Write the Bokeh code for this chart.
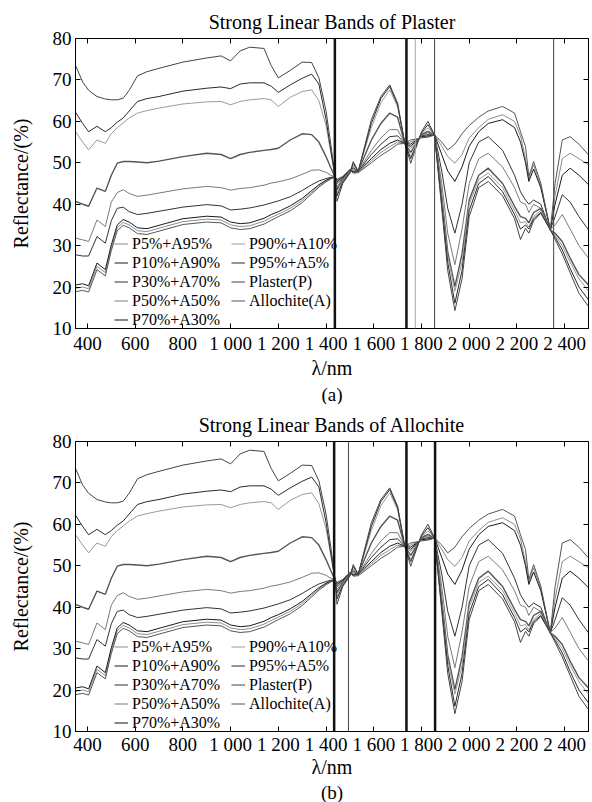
from bokeh.plotting import figure
from bokeh.models import (Range1d, FixedTicker, LinearAxis, Legend, LegendItem,
                          Span, Title, CustomLabelingPolicy)
from bokeh.layouts import column
from bokeh.embed import file_html
from bokeh.resources import INLINE

# ---------------- data ----------------
wavelength = [350, 380, 405, 440, 475, 500, 525, 550, 575, 610,
              650, 700, 800, 900, 960, 1000, 1040, 1080, 1140, 1170,
              1200, 1250, 1300, 1340, 1370, 1400, 1420, 1438, 1446, 1470,
              1500, 1514, 1535, 1590, 1630, 1667, 1700, 1730, 1755, 1800,
              1827, 1855, 1885, 1910, 1940, 1970, 2000, 2040, 2080, 2140,
              2190, 2215, 2236, 2250, 2270, 2300, 2340, 2360, 2390, 2423,
              2460, 2500]

p5_a95 = [19.7, 20.0, 19.6, 25.0, 23.5, 29.5, 34.3, 35.6, 35.0, 33.6,
          33.4, 34.2, 35.8, 36.4, 36.2, 35.0, 34.6, 34.8, 35.9, 36.8,
          37.6, 39.0, 40.9, 42.9, 44.4, 45.6, 46.2, 46.6, 45.8, 46.6,
          48.3, 47.6, 47.8, 50.5, 52.5, 53.9, 55.0, 54.7, 55.0, 56.2,
          56.3, 56.7, 54.0, 51.5, 49.9, 52.0, 56.0, 58.5, 60.5, 61.6,
          60.0, 56.5, 51.0, 46.0, 49.5, 44.5, 33.8, 42.0, 51.0, 52.3,
          51.0, 49.5]
p10_a90 = [20.5, 20.8, 20.3, 25.8, 24.2, 30.2, 35.0, 36.3, 35.7, 34.3,
           34.1, 34.9, 36.5, 37.1, 36.9, 35.7, 35.3, 35.5, 36.6, 37.5,
           38.2, 39.6, 41.4, 43.3, 44.7, 45.8, 46.3, 46.6, 45.5, 46.5,
           48.2, 47.8, 48.0, 51.0, 53.2, 54.7, 55.5, 54.7, 54.5, 56.3,
           56.5, 56.7, 52.0, 48.0, 45.5, 49.0, 54.0, 57.5, 59.5, 60.4,
           58.5, 55.0, 50.0, 45.5, 48.5, 44.0, 33.8, 40.0, 47.0, 48.7,
           47.0, 44.7]
p30_a70 = [27.8, 27.5, 27.5, 32.2, 30.6, 36.0, 39.0, 39.3, 38.2, 37.5,
           37.8, 38.3, 39.3, 39.9, 39.6, 38.6, 38.8, 39.1, 39.8, 40.3,
           40.8, 41.8, 43.3, 44.7, 45.6, 46.2, 46.5, 46.6, 45.0, 46.3,
           48.2, 48.0, 48.0, 52.0, 54.5, 56.3, 56.5, 54.7, 54.0, 56.5,
           56.8, 56.7, 48.0, 39.0, 33.0, 40.0, 50.0, 55.0, 56.3, 53.0,
           47.0, 43.0, 41.0, 40.0, 41.0, 40.0, 33.8, 37.0, 42.3, 40.5,
           37.0, 33.8]
p50_a50 = [31.8, 31.4, 31.0, 36.2, 34.6, 40.5, 42.8, 43.5, 42.6, 41.9,
           42.2, 42.7, 43.7, 44.3, 44.0, 43.4, 43.8, 44.0, 44.6, 45.1,
           45.4, 46.1, 47.2, 48.2, 48.3, 47.7, 47.0, 46.6, 44.3, 46.1,
           48.1, 48.3, 48.0, 53.0, 56.0, 58.0, 58.0, 54.7, 53.5, 56.6,
           57.2, 56.7, 45.0, 33.0, 25.4, 34.0, 45.0, 51.0, 52.3, 49.0,
           44.0, 40.5, 40.0, 38.0, 40.0, 39.0, 33.8, 35.0, 37.5, 34.0,
           30.0, 27.0]
p70_a30 = [40.7, 40.0, 39.5, 43.9, 43.1, 47.0, 49.9, 50.3, 50.3, 50.2,
           50.0, 50.4, 51.5, 52.3, 52.0, 51.0, 52.0, 52.5, 53.0, 53.2,
           53.5, 55.5, 57.0, 56.8, 55.0, 51.5, 48.8, 46.6, 43.5, 45.9,
           48.0, 48.8, 48.0, 55.5, 59.5, 62.0, 61.0, 54.7, 52.5, 56.8,
           57.6, 56.7, 42.0, 28.5, 20.1, 28.0, 41.0, 47.0, 48.7, 45.0,
           39.5, 37.0, 36.6, 35.5, 38.0, 39.0, 33.8, 33.0, 31.0, 27.0,
           23.0, 20.5]
p90_a10 = [57.5, 55.0, 53.1, 55.5, 54.7, 57.0, 58.5, 59.6, 60.8, 62.0,
           62.6, 63.2, 64.2, 64.7, 64.8, 64.0, 64.8, 65.2, 65.5, 65.2,
           63.6, 65.8, 67.2, 67.6, 65.0, 59.0, 52.5, 46.6, 42.7, 45.6,
           47.9, 49.3, 48.0, 58.5, 64.5, 67.6, 63.5, 54.7, 51.5, 57.0,
           58.4, 56.7, 41.0, 27.5, 19.0, 26.0, 40.0, 46.0, 47.5, 44.0,
           38.5, 35.5, 35.8, 34.5, 37.0, 38.5, 33.8, 32.5, 30.0, 26.0,
           22.0, 19.0]
p95_a5 = [62.2, 59.5, 57.5, 58.8, 57.5, 58.5, 59.8, 60.8, 62.5, 64.8,
          65.5, 66.0, 67.3, 68.0, 68.3, 67.9, 69.0, 69.3, 69.3, 68.5,
          67.0, 68.8, 70.4, 71.4, 69.0, 60.5, 53.0, 46.6, 42.0, 45.3,
          47.7, 49.8, 48.0, 59.5, 65.5, 68.4, 64.0, 54.7, 51.0, 57.2,
          59.2, 56.7, 40.0, 26.0, 16.1, 24.0, 38.5, 45.0, 46.7, 43.0,
          37.5, 34.0, 35.0, 34.0, 36.5, 38.0, 33.8, 32.0, 29.0, 24.5,
          20.0, 16.9]
plaster = [73.5, 69.5, 67.5, 66.0, 65.4, 65.2, 65.2, 65.6, 67.5, 71.0,
           72.0, 72.8, 74.3, 75.3, 75.8, 74.6, 77.0, 77.9, 77.6, 73.5,
           70.5, 72.3, 74.3, 74.2, 70.5, 62.5, 54.5, 46.6, 40.7, 45.0,
           47.5, 50.3, 47.9, 60.4, 66.0, 68.8, 64.4, 54.7, 49.9, 57.5,
           60.0, 56.7, 39.0, 24.0, 14.3, 22.0, 37.0, 44.0, 45.5, 42.0,
           36.5, 31.5, 34.2, 33.0, 36.0, 37.8, 33.8, 31.5, 28.0, 23.5,
           18.5, 15.3]
allochite = [18.9, 19.2, 18.8, 24.2, 22.7, 28.8, 33.6, 34.9, 34.3, 32.9,
             32.7, 33.5, 35.1, 35.7, 35.5, 34.3, 33.9, 34.1, 35.2, 36.1,
             37.0, 38.4, 40.4, 42.5, 44.1, 45.4, 46.1, 46.6, 46.0, 46.7,
             48.4, 47.5, 47.6, 50.0, 51.8, 53.1, 54.5, 54.7, 55.5, 56.0,
             56.2, 56.7, 55.0, 53.1, 54.5, 57.0, 59.0, 61.0, 62.5, 63.6,
             62.0, 57.5, 53.9, 46.7, 50.3, 45.1, 33.8, 45.0, 55.5, 56.3,
             54.5, 51.9]

series_names = ["P5%+A95%", "P10%+A90%", "P30%+A70%", "P50%+A50%", "P70%+A30%",
                "P90%+A10%", "P95%+A5%", "Plaster(P)", "Allochite(A)"]
series_values = [p5_a95, p10_a90, p30_a70, p50_a50, p70_a30,
                 p90_a10, p95_a5, plaster, allochite]

x_ticks = [400, 600, 800, 1000, 1200, 1400, 1600, 1800, 2000, 2200, 2400]
y_ticks = [10, 20, 30, 40, 50, 60, 70, 80]

bands_plaster = [1437, 1737, 1774, 1855, 2354]
bands_allochite = [1434, 1494, 1737, 1857]

# ---------------- styles ----------------
FONT = "Liberation Serif"
line_colors = ["#8c8c8c", "#1a1a1a", "#333333", "#7a7a7a", "#555555",
               "#9a9a9a", "#2a2a2a", "#444444", "#555555"]
line_widths = [1, 1, 1, 1, 1.4, 1, 1, 1, 1]
band_style_plaster = [(2.5, "#111111"), (2.5, "#111111"), (1, "#aaaaaa"),
                      (1, "#444444"), (1, "#444444")]
band_style_allochite = [(2.5, "#111111"), (1, "#444444"), (2.5, "#111111"),
                        (2.5, "#111111")]

NO_LABELS = "for (const i of indices) { indices.unset(i) }"


def tick_label(t):
    return f"{t:,}".replace(",", " ")


def hidden_axis(ticks):
    return LinearAxis(ticker=FixedTicker(ticks=ticks),
                      major_label_policy=CustomLabelingPolicy(code=NO_LABELS),
                      major_label_text_font_size="1px",
                      major_label_standoff=0, major_tick_in=5, major_tick_out=0,
                      minor_tick_line_color=None, axis_line_color=None)


def build(title, tag, bands, band_styles, height, top, bottom, lab_so, axl_so, tag_so):
    p = figure(width=592, height=height,
               x_range=Range1d(350, 2500), y_range=Range1d(10, 80),
               output_backend="svg", toolbar_location=None,
               min_border_left=75, min_border_right=0,
               min_border_top=top, min_border_bottom=bottom,
               x_axis_label="λ/nm", y_axis_label="Reflectance/(%)")
    p.grid.visible = False
    p.outline_line_color = "black"
    p.outline_line_width = 1
    p.background_fill_color = "white"
    p.border_fill_color = "white"

    p.title.text = title
    p.title.align = "center"
    p.title.text_font = FONT
    p.title.text_font_size = "20px"
    p.title.text_font_style = "normal"
    p.title.text_color = "black"
    p.title.standoff = 4

    xa = p.xaxis[0]
    xa.ticker = FixedTicker(ticks=x_ticks)
    xa.major_label_overrides = {t: tick_label(t) for t in x_ticks}
    ya = p.yaxis[0]
    ya.ticker = FixedTicker(ticks=y_ticks)
    for ax in (xa, ya):
        ax.major_label_text_font = FONT
        ax.major_label_text_font_size = "19px"
        ax.major_label_text_color = "black"
        ax.axis_label_text_font = FONT
        ax.axis_label_text_font_size = "20px"
        ax.axis_label_text_font_style = "normal"
        ax.axis_label_text_color = "black"
        ax.major_tick_in = 5
        ax.major_tick_out = 0
        ax.minor_tick_line_color = None
        ax.axis_line_color = "black"
        ax.major_tick_line_color = "black"
    xa.major_label_standoff = lab_so
    xa.axis_label_standoff = axl_so
    ya.major_label_standoff = 4
    ya.axis_label_standoff = 18

    p.add_layout(hidden_axis(x_ticks), "above")
    p.add_layout(hidden_axis(y_ticks), "right")

    renderers = []
    for name, vals, c, w in zip(series_names, series_values, line_colors, line_widths):
        r = p.line(wavelength, vals, line_color=c, line_width=w)
        renderers.append(r)

    for b, (w, c) in zip(bands, band_styles):
        p.add_layout(Span(location=b, dimension="height", line_color=c, line_width=w))

    items = [LegendItem(label=n, renderers=[r]) for n, r in zip(series_names, renderers)]
    common = dict(padding=0, margin=0, spacing=0, glyph_height=19, glyph_width=14,
                  label_height=19, label_standoff=4, label_text_font=FONT,
                  label_text_font_size="16px", label_text_color="black",
                  border_line_color=None, background_fill_alpha=0)
    leg1 = Legend(items=items[:5], location=(39, -1), **common)
    leg2 = Legend(items=items[5:], location=(156, 18), **common)
    p.add_layout(leg1)
    p.add_layout(leg2)

    p.add_layout(Title(text=tag, align="center", text_font=FONT, text_font_size="19px",
                       text_font_style="normal", text_color="black", standoff=tag_so), "below")
    return p


p1 = build("Strong Linear Bands of Plaster", "(a)", bands_plaster, band_style_plaster,
           404, 38, 76, 4, 0, 0)
p2 = build("Strong Linear Bands of Allochite", "(b)", bands_allochite, band_style_allochite,
           398, 37, 71, 2, -2, -2)

layout = column(p1, p2, spacing=0)
open("out.html", "w").write(file_html(layout, INLINE))
